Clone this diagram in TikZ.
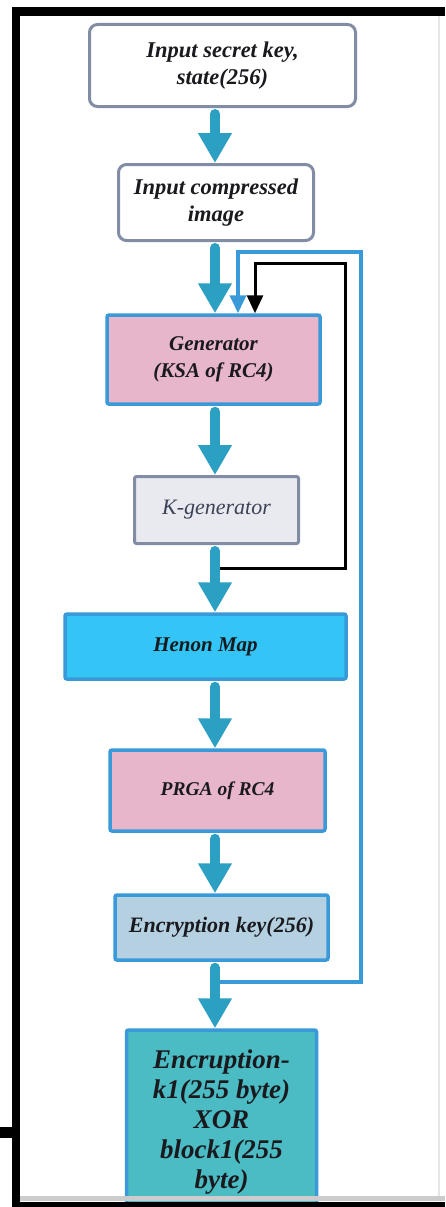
\documentclass[tikz,border=0pt]{standalone}
\usepackage{fontspec}
\setmainfont{Liberation Serif}
\usetikzlibrary{arrows.meta}
\definecolor{flowteal}{RGB}{44,160,195}
\definecolor{boxblue}{RGB}{58,154,217}
\definecolor{boxgray}{RGB}{130,140,165}
\definecolor{boxtext}{RGB}{25,25,30}
\definecolor{ksapink}{RGB}{232,182,203}
\definecolor{kgenfill}{RGB}{232,234,240}
\definecolor{kgentext}{RGB}{60,66,85}
\definecolor{henonfill}{RGB}{50,197,245}
\definecolor{keyfill}{RGB}{180,208,225}
\definecolor{xorfill}{RGB}{75,188,196}
\begin{document}
    \begin{tikzpicture}[x=1pt,y=-1pt,
        box/.style={draw, line width=3pt, align=center, inner sep=0pt, text=boxtext,
          font=\fontsize{21}{27}\selectfont\bfseries\itshape},
        plainbox/.style={box, draw=boxgray, fill=white, rounded corners=8pt},
        bluebox/.style={box, draw=boxblue, line width=3.5pt, rounded corners=2pt},
        flow/.style={draw=flowteal, line width=10pt, line cap=round, shorten <=6pt,
          -{Triangle[width=32pt,length=30pt]}},
        loop/.style={line width=3pt, -{Triangle[width=16pt,length=18pt]}}]
      \clip (0,0) rectangle (445,1207);
      \fill[white] (0,0) rectangle (445,1207);
      \coordinate (col) at (215,0);
      \draw
        (222.5,65.5) node[plainbox, minimum width=266pt, minimum height=82pt,
          font=\fontsize{22.5}{27}\selectfont\bfseries\itshape] (key){Input secret key,\\state(256)}
        (216,202.5) node[plainbox, minimum width=195pt, minimum height=76pt,
          font=\fontsize{22.5}{27}\selectfont\bfseries\itshape] (img){Input compressed\\image}
        (213.5,359.5) node[bluebox, fill=ksapink, minimum width=213pt, minimum height=89pt] (gen){Generator\\(KSA of RC4)}
        (216.5,510) node[plainbox, rounded corners=2pt, fill=kgenfill, text=kgentext, font=\fontsize{22}{27}\selectfont\itshape,
          minimum width=164pt, minimum height=67pt] (kgen){K-generator}
        (205.5,646.5) node[bluebox, fill=henonfill, minimum width=281pt, minimum height=65pt] (henon){Henon Map}
        (217.5,790.5) node[bluebox, fill=ksapink, minimum width=215pt, minimum height=81pt,
          font=\fontsize{19.5}{27}\selectfont\bfseries\itshape] (prga){PRGA of RC4}
        (221.5,927.5) node[bluebox, fill=keyfill, minimum width=213pt, minimum height=65pt,
          font=\fontsize{22}{27}\selectfont\bfseries\itshape] (enckey){Encryption key(256)}
        (221.5,1122) node[bluebox, fill=xorfill, minimum width=190pt, minimum height=184pt,
          font=\fontsize{27}{30}\selectfont\bfseries\itshape] (xorblk){Encruption-\\k1(255 byte)\\XOR\\block1(255\\byte)};
      \coordinate (ktap) at (219,568);
      \coordinate (etap) at (220,982);
      \draw[loop, boxblue, line width=4pt] (etap) -| (361,252) -| ([xshift=24.5pt]gen.north);
      \draw[loop, black] (ktap) -| (345,263) -| ([xshift=41.5pt]gen.north);
      \begin{scope}[flow]
        \draw (key.south -| col) to (img.north -| col);
        \draw (img.south -| col) to (gen.north -| col);
        \draw (gen.south -| col) to (kgen.north -| col);
        \draw (kgen.south -| col) to (henon.north -| col);
        \draw (henon.south -| col) to (prga.north -| col);
        \draw (prga.south -| col) to (enckey.north -| col);
        \draw (enckey.south -| col) to (xorblk.north -| col);
      \end{scope}
      \fill[black] (12,7) rectangle (445,16);
      \fill[black] (12,7) rectangle (20,1207);
      \fill[black] (0,1127) rectangle (12,1138);
      \fill[black!20] (20,1196) rectangle (445,1201);
      \fill[black] (12,1202) rectangle (445,1207);
      \draw[black!10, line width=1.5pt] (439,16) -- (439,1196);
    \end{tikzpicture}
\end{document}
